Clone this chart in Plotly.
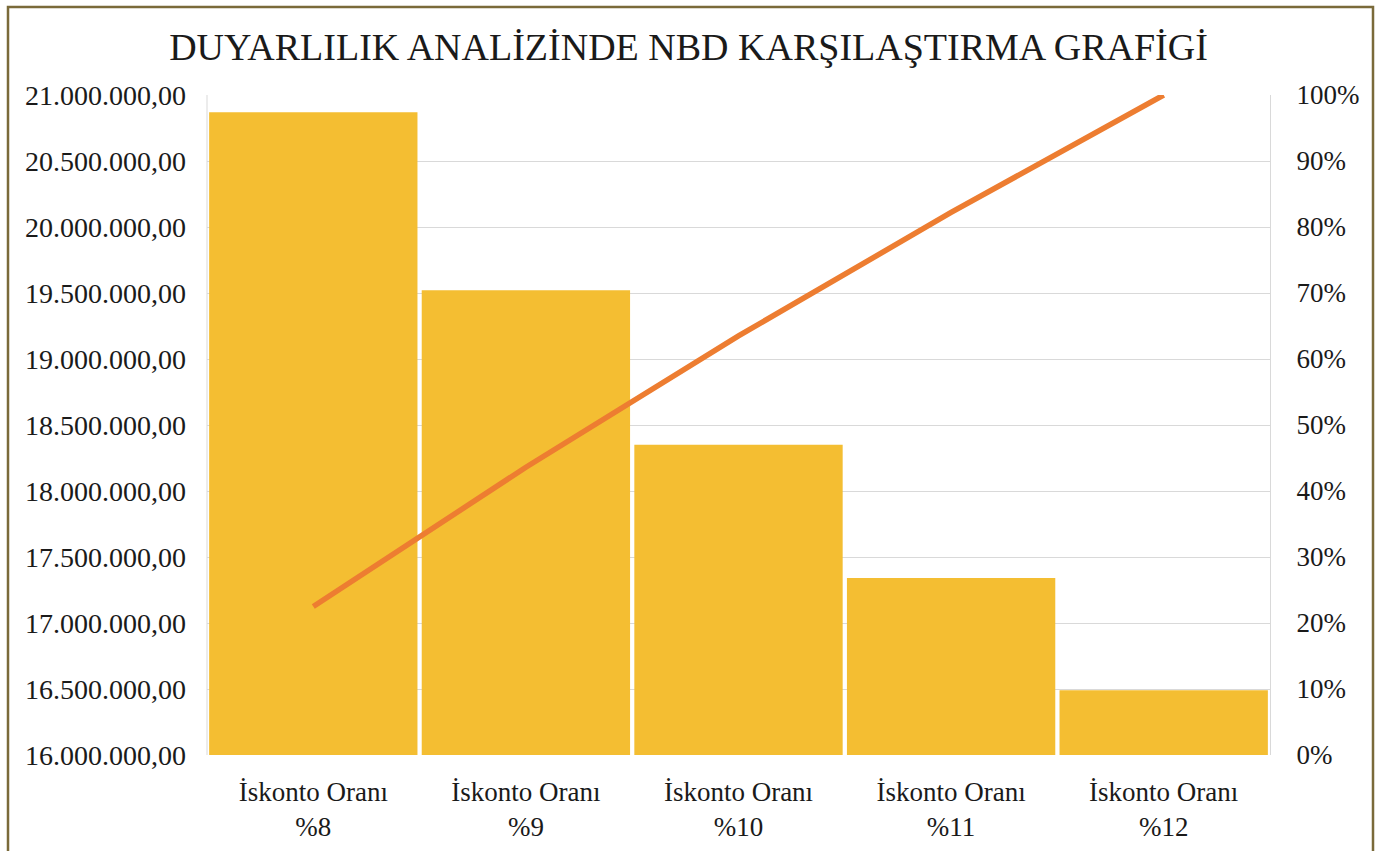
import plotly.graph_objects as go

categories = ["İskonto Oranı<br>%8", "İskonto Oranı<br>%9", "İskonto Oranı<br>%10",
              "İskonto Oranı<br>%11", "İskonto Oranı<br>%12"]
nbd_values = [20870000, 19520000, 18350000, 17340000, 16490000]
cumulative_pct = [22.5, 43.6, 63.5, 82.2, 100.0]

left_ticks = [16000000 + 500000 * i for i in range(11)]
left_tick_labels = [f"{v:,.2f}".replace(",", "X").replace(".", ",").replace("X", ".") for v in left_ticks]
right_ticks = [10 * i for i in range(11)]
right_tick_labels = [f"{v}%" for v in right_ticks]

FONT = "Liberation Serif"
TXT = "#1a1a1a"

fig = go.Figure()
fig.add_trace(go.Bar(
    x=categories, y=nbd_values,
    marker=dict(color="#F4BE32", line=dict(width=0)),
    yaxis="y", showlegend=False, hoverinfo="y",
))
fig.add_trace(go.Scatter(
    x=categories, y=cumulative_pct, mode="lines",
    line=dict(color="#ED7D31", width=5.5),
    yaxis="y2", showlegend=False,
))

L, R, T, B = 207, 1270, 95, 755
W, H = 1378, 851
fig.update_layout(
    width=W, height=H,
    margin=dict(l=L, r=W - R, t=T, b=H - B, autoexpand=False),
    paper_bgcolor="white", plot_bgcolor="white",
    bargap=0.02,
    title=dict(text="DUYARLILIK ANALİZİNDE NBD KARŞILAŞTIRMA GRAFİGİ",
               x=(172 + 1205) / 2 / W, xanchor="center", y=1 - 47 / H, yanchor="middle",
               font=dict(family=FONT, size=38, color=TXT)),
    font=dict(family=FONT, color=TXT),
    xaxis=dict(showgrid=False, showline=False, ticks="", ticklabelstandoff=18,
               automargin=False,
               tickfont=dict(family=FONT, size=27, color=TXT)),
    yaxis=dict(range=[16000000, 21000000], tickvals=left_ticks, ticktext=left_tick_labels,
               showgrid=True, gridcolor="#D9D9D9", gridwidth=1, zeroline=False,
               showline=False, ticks="", ticklabelstandoff=20, automargin=False,
               tickfont=dict(family=FONT, size=28, color=TXT)),
    yaxis2=dict(range=[0, 100], tickvals=right_ticks, ticktext=right_tick_labels,
                overlaying="y", side="right", showgrid=False, zeroline=False,
                showline=True, linecolor="#D9D9D9", linewidth=1, ticks="",
                ticklabelstandoff=20, automargin=False,
                tickfont=dict(family=FONT, size=27, color=TXT)),
    shapes=[
        dict(type="rect", xref="paper", yref="paper",
             x0=(8 - L) / (R - L), x1=(1373 - L) / (R - L),
             y0=(B - 900) / (B - T), y1=(B - 7) / (B - T),
             line=dict(color="#7A6A3A", width=2.5), fillcolor="rgba(0,0,0,0)", layer="below"),
        dict(type="line", xref="paper", yref="paper", x0=0, x1=0, y0=0, y1=1,
             line=dict(color="#D9D9D9", width=1), layer="below"),
    ],
)

fig.write_html("out.html", config={"displayModeBar": False},
               post_script="document.body.style.margin='0';document.body.style.overflow='hidden';")
